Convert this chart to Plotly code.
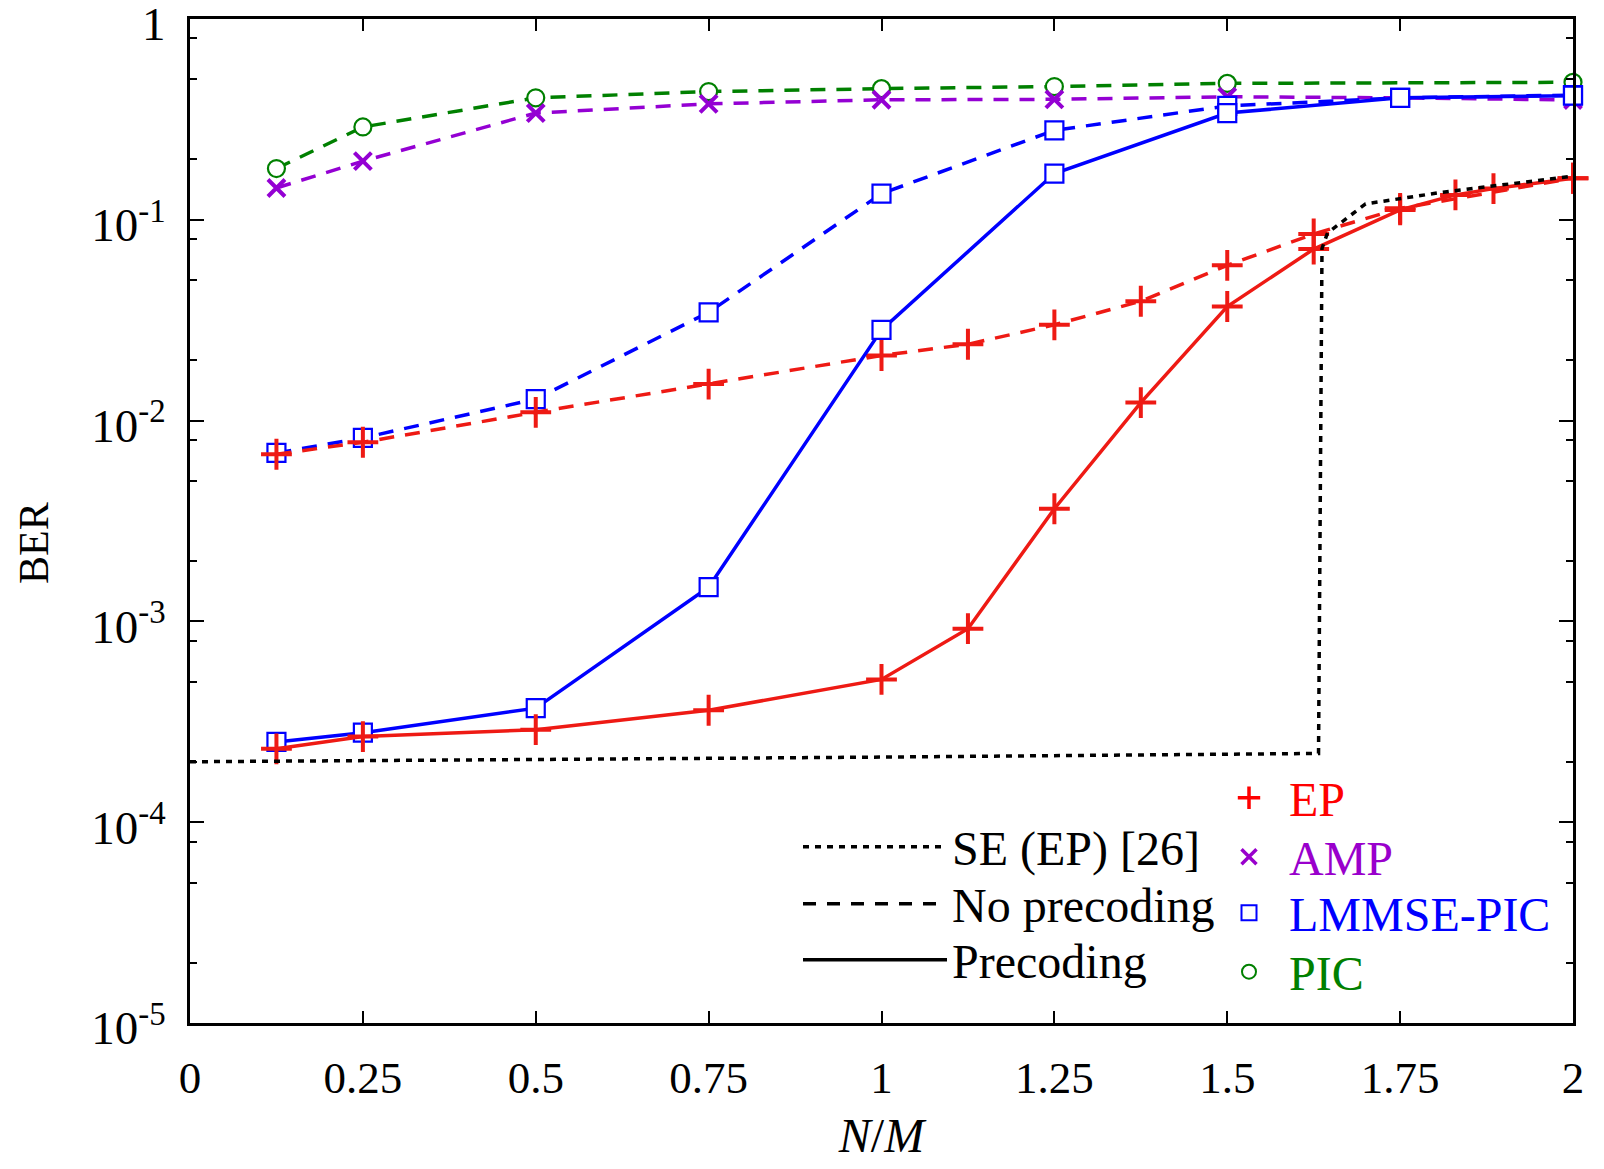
import plotly.graph_objects as go

# ---------------- data ----------------
x_ep_prec = [0.125, 0.25, 0.5, 0.75, 1.0, 1.125, 1.25, 1.375, 1.5, 1.625, 1.75, 1.83, 1.885, 2.0]
ber_ep_prec = [2.32e-4, 2.67e-4, 2.89e-4, 3.61e-4, 5.14e-4, 9.2e-4, 3.64e-3, 1.23e-2, 3.7e-2,
               7.15e-2, 0.112, 0.133, 0.143, 0.161]

x_ep_noprec = [0.125, 0.25, 0.5, 0.75, 1.0, 1.125, 1.25, 1.375, 1.5, 1.625, 1.75, 2.0]
ber_ep_noprec = [6.8e-3, 7.8e-3, 1.10e-2, 1.52e-2, 2.11e-2, 2.40e-2, 3.0e-2, 3.93e-2, 5.93e-2,
                 8.5e-2, 0.114, 0.161]

x_lm = [0.125, 0.25, 0.5, 0.75, 1.0, 1.25, 1.5, 1.75, 2.0]
ber_lm_prec = [2.51e-4, 2.79e-4, 3.70e-4, 1.48e-3, 2.83e-2, 0.170, 0.340, 0.405, 0.415]
ber_lm_noprec = [6.9e-3, 8.2e-3, 1.28e-2, 3.46e-2, 0.135, 0.279, 0.369, 0.405, 0.418]

x_amp = [0.125, 0.25, 0.5, 0.75, 1.0, 1.25, 1.5, 1.75, 2.0]
ber_amp = [0.144, 0.196, 0.340, 0.378, 0.396, 0.398, 0.410, 0.405, 0.395]

x_pic = [0.125, 0.25, 0.5, 0.75, 1.0, 1.25, 1.5, 2.0]
ber_pic = [0.180, 0.290, 0.405, 0.435, 0.450, 0.461, 0.478, 0.484]

x_se = [0.0, 0.25, 0.5, 0.75, 1.0, 1.25, 1.5, 1.632, 1.637, 1.645, 1.70, 1.81, 2.0]
ber_se = [2.0e-4, 2.02e-4, 2.05e-4, 2.08e-4, 2.11e-4, 2.14e-4, 2.17e-4, 2.2e-4,
          0.072, 0.086, 0.120, 0.137, 0.165]

x_tick_vals = [0, 0.25, 0.5, 0.75, 1, 1.25, 1.5, 1.75, 2]
x_tick_text = ["0", "0.25", "0.5", "0.75", "1", "1.25", "1.5", "1.75", "2"]
y_tick_vals = [1e-5, 1e-4, 1e-3, 1e-2, 1e-1, 1.0]
y_tick_text = ["10<sup>-5</sup>", "10<sup>-4</sup>", "10<sup>-3</sup>",
               "10<sup>-2</sup>", "10<sup>-1</sup>", "1"]
y_minor_vals = [m * 10.0 ** k for k in range(-5, 0) for m in (2, 5, 8)]

# ---------------- styles ----------------
RED = "#ee1a14"
PURPLE = "#9400d3"
BLUE = "#0000ff"
GREEN = "#008000"
DASH = "15px,11px"
DOT = "6px,6px"
FONT = "Liberation Serif"
LW = 3.5

# the page body adds an 8 px offset, so the figure is 8 px smaller than the window
OFF = 8
FIG_W, FIG_H = 1604 - OFF, 1169 - OFF
PX_L, PX_T, PW, PH = 190 - OFF, 19 - OFF, 1383, 1004

fig = go.Figure()

def add_curve(x, y, color, dash, symbol, size, mlw, fill):
    fig.add_trace(go.Scatter(
        x=x, y=y, mode="lines+markers", showlegend=False, cliponaxis=False,
        line=dict(color=color, width=LW, dash=dash),
        marker=dict(symbol=symbol, size=size, color=fill,
                    line=dict(color=color, width=mlw)),
    ))

add_curve(x_pic, ber_pic, GREEN, DASH, "circle", 17, 2.2, "white")
add_curve(x_amp, ber_amp, PURPLE, DASH, "x-thin", 17, 4, PURPLE)
add_curve(x_lm, ber_lm_noprec, BLUE, DASH, "square", 18, 2.2, "white")
add_curve(x_ep_noprec, ber_ep_noprec, RED, DASH, "cross-thin", 22, 4, RED)
add_curve(x_lm, ber_lm_prec, BLUE, "solid", "square", 18, 2.2, "white")
add_curve(x_ep_prec, ber_ep_prec, RED, "solid", "cross-thin", 22, 4, RED)

fig.add_trace(go.Scatter(
    x=x_se, y=ber_se, mode="lines", showlegend=False,
    line=dict(color="black", width=LW, dash=DOT),
))

# ---------------- legend entries (one legend per row) ----------------
def px_x(px):  # window pixel -> paper x
    return (px - OFF - PX_L) / PW

def px_y(py):  # window pixel -> paper y
    return 1 - (py - OFF - PX_T) / PH

legend_layout = {}
line_entries = [("SE (EP) [26]", DOT, 847), ("No precoding", "13px,11px", 904), ("Precoding", "solid", 960)]
for i, (name, dash, ypx) in enumerate(line_entries):
    lid = "legend" if i == 0 else f"legend{i + 1}"
    fig.add_trace(go.Scatter(
        x=[None], y=[None], mode="lines", name=name, legend=lid,
        line=dict(color="black", width=LW, dash=dash),
    ))
    legend_layout[lid] = dict(
        x=px_x(798), y=px_y(ypx), xanchor="left", yanchor="middle",
        font=dict(family=FONT, size=48, color="black"),
        itemwidth=144, bgcolor="rgba(0,0,0,0)", borderwidth=0,
    )

marker_entries = [
    ("EP", "#ff0000", "cross-thin", 19, "#ff0000", 798),
    ("AMP", "#9900cc", "x-thin", 15, "#9900cc", 857),
    ("LMMSE-PIC", "#0000ff", "square", 15, "white", 913),
    ("PIC", "#008000", "circle", 14, "white", 972),
]
for j, (name, color, symbol, size, fill, ypx) in enumerate(marker_entries):
    lid = f"legend{j + 4}"
    fig.add_trace(go.Scatter(
        x=[None], y=[None], mode="markers", legend=lid,
        name=f"<span style='color:{color}'>{name}</span>",
        marker=dict(symbol=symbol, size=size, color=fill,
                    line=dict(color=color, width=3.5 if "thin" in symbol else 2)),
    ))
    legend_layout[lid] = dict(
        x=px_x(1209), y=px_y(ypx), xanchor="left", yanchor="middle",
        font=dict(family=FONT, size=48, color="black"),
        itemwidth=70, bgcolor="rgba(0,0,0,0)", borderwidth=0, itemsizing="trace",
    )

axis_common = dict(
    showline=True, linewidth=3, linecolor="black", mirror="allticks",
    ticks="inside", tickcolor="black", tickwidth=2, showgrid=False, zeroline=False,
    automargin=False, ticklabeloverflow="allow",
)

fig.update_layout(
    template="none",
    width=FIG_W, height=FIG_H,
    margin=dict(l=PX_L, r=FIG_W - PX_L - PW, t=PX_T, b=FIG_H - PX_T - PH),
    paper_bgcolor="white", plot_bgcolor="white",
    font=dict(family=FONT, size=45, color="black"),
    xaxis=dict(
        range=[0, 2], tickmode="array", tickvals=x_tick_vals, ticktext=x_tick_text,
        ticklen=12, ticklabelstandoff=13,
        title=dict(text="<i>N</i>/<i>M</i>", font=dict(size=48), standoff=17),
        **axis_common,
    ),
    yaxis=dict(
        type="log", range=[-5, 0], tickmode="array", tickvals=y_tick_vals, ticktext=y_tick_text,
        ticklen=14, ticklabelstandoff=12, ticklabelshift=5, tickfont=dict(size=47),
        minor=dict(tickvals=y_minor_vals, ticks="inside", ticklen=7, tickwidth=2,
                   tickcolor="black", showgrid=False),
        **axis_common,
    ),
    annotations=[dict(
        text="BER", textangle=-90, showarrow=False,
        xref="paper", yref="paper", x=px_x(34), y=px_y(543),
        xanchor="center", yanchor="middle", font=dict(family=FONT, size=42, color="black"),
    )],
    **legend_layout,
)

fig.write_html("out.html")
